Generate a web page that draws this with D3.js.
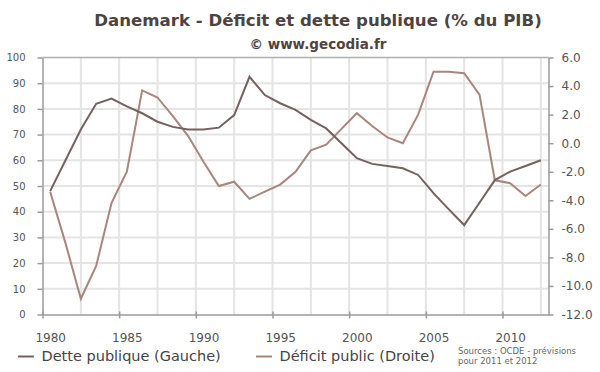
<!DOCTYPE html>
<html>
<head>
<meta charset="utf-8">
<script src="https://cdn.jsdelivr.net/npm/d3@7"></script>
<style>
  body { margin: 0; background: #fff; }
  svg { font-family: "DejaVu Sans", Verdana, sans-serif; }
</style>
</head>
<body>
<svg width="600" height="372"></svg>
<script>
// data
var years = [1980, 1981, 1982, 1983, 1984, 1985, 1986, 1987, 1988, 1989,
  1990, 1991, 1992, 1993, 1994, 1995, 1996, 1997, 1998, 1999,
  2000, 2001, 2002, 2003, 2004, 2005, 2006, 2007, 2008, 2009,
  2010, 2011, 2012];
var dette = [48, 60, 72, 82, 84, 81, 78.3, 75, 73, 72,
  72, 72.7, 77.6, 92.5, 85.4, 82.2, 79.6, 75.7, 72.4, 66.6,
  60.8, 58.6, 57.8, 56.9, 54.3, 47.2, 40.9, 34.8, 43.5, 52.3,
  55.6, 57.8, 60];
var deficit = [-3.4, -7.0, -10.9, -8.6, -4.2, -2.0, 3.7, 3.2, 1.9, 0.5,
  -1.3, -3.0, -2.7, -3.9, -3.4, -2.9, -2.0, -0.5, -0.1, 1.0,
  2.1, 1.2, 0.4, 0.0, 2.0, 5.0, 5.0, 4.9, 3.4, -2.6,
  -2.8, -3.7, -2.9];
var leftTicks = [0, 10, 20, 30, 40, 50, 60, 70, 80, 90, 100];
var rightTicks = [6, 4, 2, 0, -2, -4, -6, -8, -10, -12];
var yearTicks = [1980, 1985, 1990, 1995, 2000, 2005, 2010];
var gridYears = [1982.5, 1985, 1987.5, 1990, 1992.5, 1995, 1997.5, 2000,
  2002.5, 2005, 2007.5, 2010, 2012.5];

var svg = d3.select("svg");
var width = +svg.attr("width");
var height = +svg.attr("height");

var plot = { left: 42.5, right: 548.5, top: 57.5, bottom: 314.5 };

var detteColor = "#74625f";
var deficitColor = "#a8857f";
var axisColor = "#9a9a9a";

// categories: each year is a band, points sit in the middle
var x = d3.scaleLinear().domain([1980, 2013]).range([plot.left, plot.right]);
var yLeft = d3.scaleLinear().domain([0, 100]).range([plot.bottom, plot.top]);
var yRight = d3.scaleLinear().domain([-12, 6]).range([plot.bottom, plot.top]);

// gridlines
svg.append("g")
  .selectAll("line")
  .data(leftTicks.slice(1, -1))
  .enter()
  .append("line")
  .attr("x1", plot.left)
  .attr("x2", plot.right)
  .attr("y1", (d) => yLeft(d))
  .attr("y2", (d) => yLeft(d))
  .attr("stroke", "#e4e4e4")
  .attr("stroke-width", 2);

svg.append("g")
  .selectAll("line")
  .data(gridYears)
  .enter()
  .append("line")
  .attr("x1", (d) => x(d))
  .attr("x2", (d) => x(d))
  .attr("y1", plot.top)
  .attr("y2", plot.bottom)
  .attr("stroke", "#e4e4e4")
  .attr("stroke-width", 2);

// top border
svg.append("line")
  .attr("x1", plot.left)
  .attr("x2", plot.right)
  .attr("y1", plot.top)
  .attr("y2", plot.top)
  .attr("stroke", "#b0b0b0")
  .attr("stroke-width", 1.5);

// axes
var leftAxis = svg.append("g")
  .attr("transform", `translate(${plot.left},0)`)
  .call(d3.axisLeft(yLeft).tickValues(leftTicks).tickSize(5).tickSizeOuter(0).tickPadding(12));

var rightAxis = svg.append("g")
  .attr("transform", `translate(${plot.right},0)`)
  .call(d3.axisRight(yRight).tickValues(rightTicks).tickSize(5).tickSizeOuter(0).tickPadding(8)
    .tickFormat((d) => d.toFixed(1)));

var bottomAxis = svg.append("g")
  .attr("transform", `translate(0,${plot.bottom})`)
  .call(d3.axisBottom(x).tickValues(yearTicks).tickSize(4).tickSizeOuter(0).tickPadding(14.5)
    .tickFormat(d3.format("d")));

bottomAxis.selectAll(".tick line").attr("y1", -3);
bottomAxis.selectAll(".tick text").attr("x", (x(1981) - x(1980)) / 2);

[leftAxis, rightAxis, bottomAxis].forEach((g) => {
  g.attr("font-family", null);
  g.select(".domain").attr("stroke", axisColor).attr("stroke-width", 1.5);
  g.selectAll(".tick line").attr("stroke", axisColor).attr("stroke-width", 1.5);
  g.selectAll(".tick text").attr("fill", "#555").style("font-size", "12px");
});
leftAxis.selectAll(".tick text").style("font-size", "10px");

// series
var lineLeft = d3.line()
  .x((d, i) => x(years[i] + 0.5))
  .y((d) => yLeft(d));

var lineRight = d3.line()
  .x((d, i) => x(years[i] + 0.5))
  .y((d) => yRight(d));

svg.append("path")
  .datum(deficit)
  .attr("d", lineRight)
  .attr("fill", "none")
  .attr("stroke", deficitColor)
  .attr("stroke-width", 2);

svg.append("path")
  .datum(dette)
  .attr("d", lineLeft)
  .attr("fill", "none")
  .attr("stroke", detteColor)
  .attr("stroke-width", 2);

// titles
svg.append("text")
  .attr("x", 318)
  .attr("y", 26)
  .attr("text-anchor", "middle")
  .attr("fill", "#4f4341")
  .style("font-size", "16.6px")
  .style("font-weight", "bold")
  .text("Danemark - Déficit et dette publique (% du PIB)");

svg.append("text")
  .attr("x", 318)
  .attr("y", 49)
  .attr("text-anchor", "middle")
  .attr("fill", "#4f4341")
  .style("font-size", "13.5px")
  .style("font-weight", "bold")
  .text("© www.gecodia.fr");

// legend
var legend = [
  { label: "Dette publique (Gauche)", color: detteColor, x: 18 },
  { label: "Déficit public (Droite)", color: deficitColor, x: 256 }
];

var lg = svg.append("g")
  .selectAll("g")
  .data(legend)
  .enter()
  .append("g")
  .attr("transform", (d) => `translate(${d.x},356.5)`);

lg.append("line")
  .attr("x1", 0)
  .attr("x2", 16)
  .attr("stroke", (d) => d.color)
  .attr("stroke-width", 2);

lg.append("text")
  .attr("x", 23.5)
  .attr("y", 4.5)
  .attr("fill", "#444")
  .style("font-size", "14.5px")
  .text((d) => d.label);

svg.append("text")
  .attr("x", 458)
  .attr("y", 354)
  .attr("fill", "#666")
  .style("font-size", "8.5px")
  .text("Sources : OCDE - prévisions");

svg.append("text")
  .attr("x", 458)
  .attr("y", 364)
  .attr("fill", "#666")
  .style("font-size", "8.5px")
  .text("pour 2011 et 2012");
</script>
</body>
</html>
